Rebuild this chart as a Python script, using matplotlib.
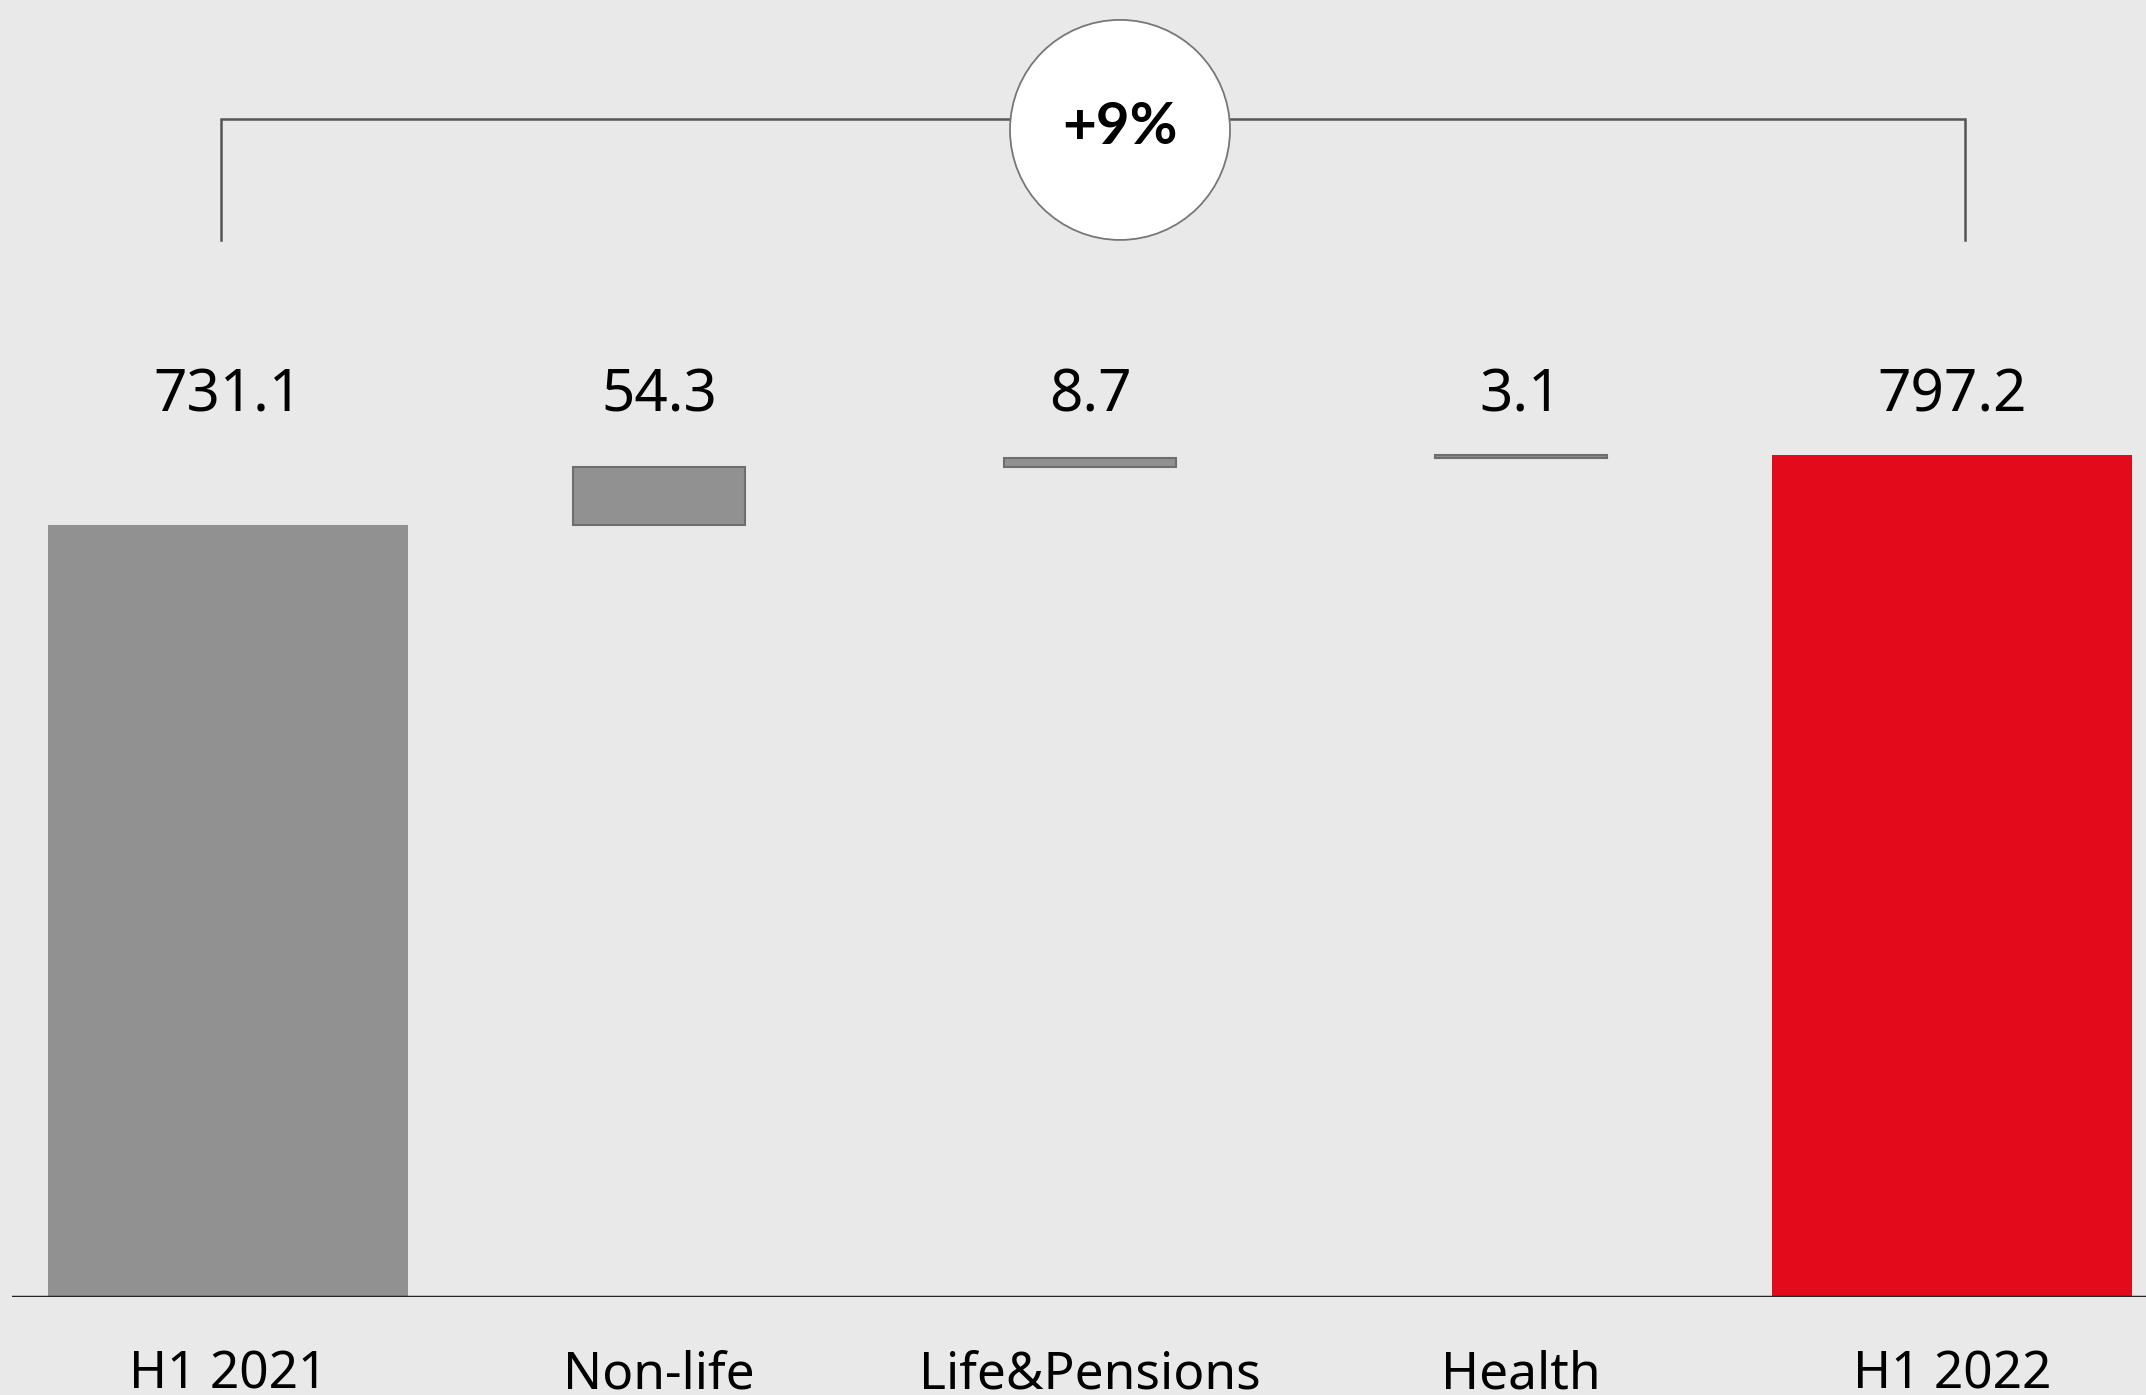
import matplotlib.pyplot as plt
from matplotlib.patches import Ellipse

# Data
categories = ['H1 2021', 'Non-life', 'Life&Pensions', 'Health', 'H1 2022']
values = [731.1, 54.3, 8.7, 3.1, 797.2]
growth_label = '+9%'

bg = '#E9E9E9'
gray = '#919191'
red = '#E20A1B'

plt.rcParams['font.family'] = ['Noto Sans', 'DejaVu Sans']

fig = plt.figure(figsize=(21.46, 13.95), dpi=100, facecolor=bg)
ax = fig.add_axes([12 / 2146, 98 / 1395, 1 - 12 / 2146, 1 - 98 / 1395])
ax.set_facecolor(bg)

# waterfall: first and last are totals, middle ones float on the running sum
running = values[0]
for i, (cat, v) in enumerate(zip(categories, values)):
    if i == 0:
        ax.bar(i, v, width=0.835, color=gray, linewidth=0)
    elif i == len(values) - 1:
        ax.bar(i, v, width=0.835, color=red, linewidth=0)
    else:
        ax.bar(i, v, bottom=running, width=0.40, color=gray,
               edgecolor='#6E6E6E', linewidth=1.5)
        running += v
    ax.text(i, 853, f'{v:.1f}', ha='center', va='center', fontsize=42, color='black')
    ax.text(i, -87, cat, ha='center', va='baseline', fontsize=37, color='black',
            clip_on=False)

ax.set_xlim(-0.501, 4.45)
ax.set_ylim(0, 1228)

# x axis line
ax.axhline(0, color='#222222', linewidth=2.5, zorder=5)
for s in ax.spines.values():
    s.set_visible(False)
ax.set_xticks([])
ax.set_yticks([])

# bracket with growth bubble
y_br = 1115
y_low = 1001
ax.plot([-0.015, -0.015, 4.03, 4.03], [y_low, y_br, y_br, y_low], color='#555555',
        linewidth=1.8, solid_joinstyle='miter', zorder=2)
cx = (1120 - 228) / 431
ax.add_patch(Ellipse((cx, 1105), width=220 / 431, height=220 / 1.056,
                     facecolor='white', edgecolor='#777777', linewidth=1.3, zorder=3))
ax.text(cx, 1107, growth_label, ha='center', va='center', fontsize=42,
        fontweight='bold', family=['Lato', 'DejaVu Sans'], zorder=4)

fig.savefig('out.png', dpi=100, facecolor=bg)
